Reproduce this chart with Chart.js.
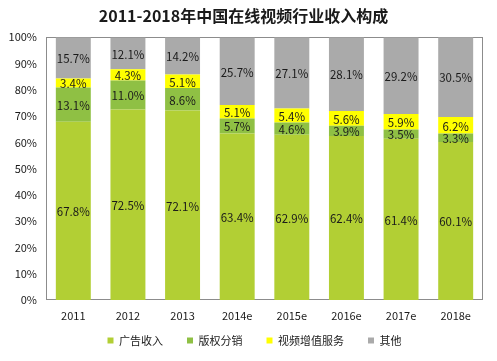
<!DOCTYPE html>
<html>
<head>
<meta charset="utf-8">
<script src="https://cdn.jsdelivr.net/npm/chart.js@4/dist/chart.umd.min.js"></script>
<style>
  html, body { margin: 0; padding: 0; background: #fff; }
  .wrap { width: 497px; height: 361px; }
</style>
</head>
<body>
<div class="wrap"><canvas id="chart" width="497" height="361"></canvas></div>
<script>
const years = ["2011", "2012", "2013", "2014e", "2015e", "2016e", "2017e", "2018e"];
const adRevenue = [67.8, 72.5, 72.1, 63.4, 62.9, 62.4, 61.4, 60.1];
const copyright = [13.1, 11.0, 8.6, 5.7, 4.6, 3.9, 3.5, 3.3];
const valueAdded = [3.4, 4.3, 5.1, 5.1, 5.4, 5.6, 5.9, 6.2];
const others = [15.7, 12.1, 14.2, 25.7, 27.1, 28.1, 29.2, 30.5];
const seriesNames = ["广告收入", "版权分销", "视频增值服务", "其他"];

const font = "'Noto Sans CJK SC', 'Noto Sans', sans-serif";

// labels in middle of each segment
const labelPlugin = {
  id: "segLabels",
  afterDatasetsDraw(chart) {
    const ctx = chart.ctx;
    ctx.save();
    ctx.font = "11.5px " + font;
    ctx.fillStyle = "#1a1a1a";
    ctx.textAlign = "center";
    ctx.textBaseline = "middle";
    chart.data.datasets.forEach((ds, i) => {
      chart.getDatasetMeta(i).data.forEach((bar, j) => {
        const y = (bar.y + bar.base) / 2;
        ctx.fillText(ds.data[j].toFixed(1) + "%", bar.x, y + 1);
      });
    });
    ctx.restore();
  }
};

// frame around plot area
const framePlugin = {
  id: "frame",
  beforeDatasetsDraw(chart) {
    const a = chart.chartArea;
    const ctx = chart.ctx;
    ctx.save();
    ctx.strokeStyle = "#8c8c8c";
    ctx.lineWidth = 1;
    ctx.strokeRect(Math.round(a.left) + 0.5, Math.round(a.top) + 0.5, Math.round(a.right - a.left) - 1, Math.round(a.bottom - a.top) - 1);
    ctx.restore();
  }
};

// legend in the original sits a little right of centre
const legendShift = {
  id: "legendShift",
  afterLayout(chart) {
    chart.legend.left += 22;
  }
};

new Chart(document.getElementById("chart"), {
  type: "bar",
  data: {
    labels: years,
    datasets: [
      { label: seriesNames[0], data: adRevenue, backgroundColor: "#b2cf34" },
      { label: seriesNames[1], data: copyright, backgroundColor: "#8fc044" },
      { label: seriesNames[2], data: valueAdded, backgroundColor: "#ffff00" },
      { label: seriesNames[3], data: others, backgroundColor: "#aaaaaa" }
    ]
  },
  options: {
    responsive: false,
    animation: false,
    layout: { padding: { left: 4, right: 14, top: 0, bottom: 5 } },
    datasets: { bar: { categoryPercentage: 0.64, barPercentage: 1.0 } },
    plugins: {
      title: {
        display: true,
        text: "2011-2018年中国在线视频行业收入构成",
        font: { family: font, size: 16, weight: "bold" },
        color: "#1a1a1a",
        padding: { top: 6, bottom: 12 }
      },
      legend: {
        position: "bottom",
        labels: {
          usePointStyle: true,
          pointStyle: "rect",
          boxWidth: 6,
          boxHeight: 6,
          padding: 13,
          color: "#1a1a1a",
          font: { family: font, size: 11 },
          generateLabels(chart) {
            const items = Chart.defaults.plugins.legend.labels.generateLabels(chart);
            items.forEach((it, i) => {
              if (i < items.length - 1) it.text = it.text + "\u3000";
            });
            return items;
          }
        }
      },
      tooltip: { enabled: false }
    },
    scales: {
      x: {
        stacked: true,
        grid: { display: false, drawTicks: false, tickLength: 0 },
        border: { display: false },
        afterFit: s => { s.height = 22; },
        ticks: { color: "#1a1a1a", font: { family: font, size: 11 }, padding: 9 }
      },
      y: {
        stacked: true,
        min: 0,
        max: 100,
        grid: { display: false, drawTicks: false, tickLength: 0 },
        border: { display: false },
        afterFit: s => { s.width = 42; },
        ticks: {
          stepSize: 10,
          color: "#1a1a1a",
          font: { family: font, size: 11 },
          padding: 9,
          callback: v => v + "%"
        }
      }
    }
  },
  plugins: [framePlugin, labelPlugin, legendShift]
});
</script>
</body>
</html>
